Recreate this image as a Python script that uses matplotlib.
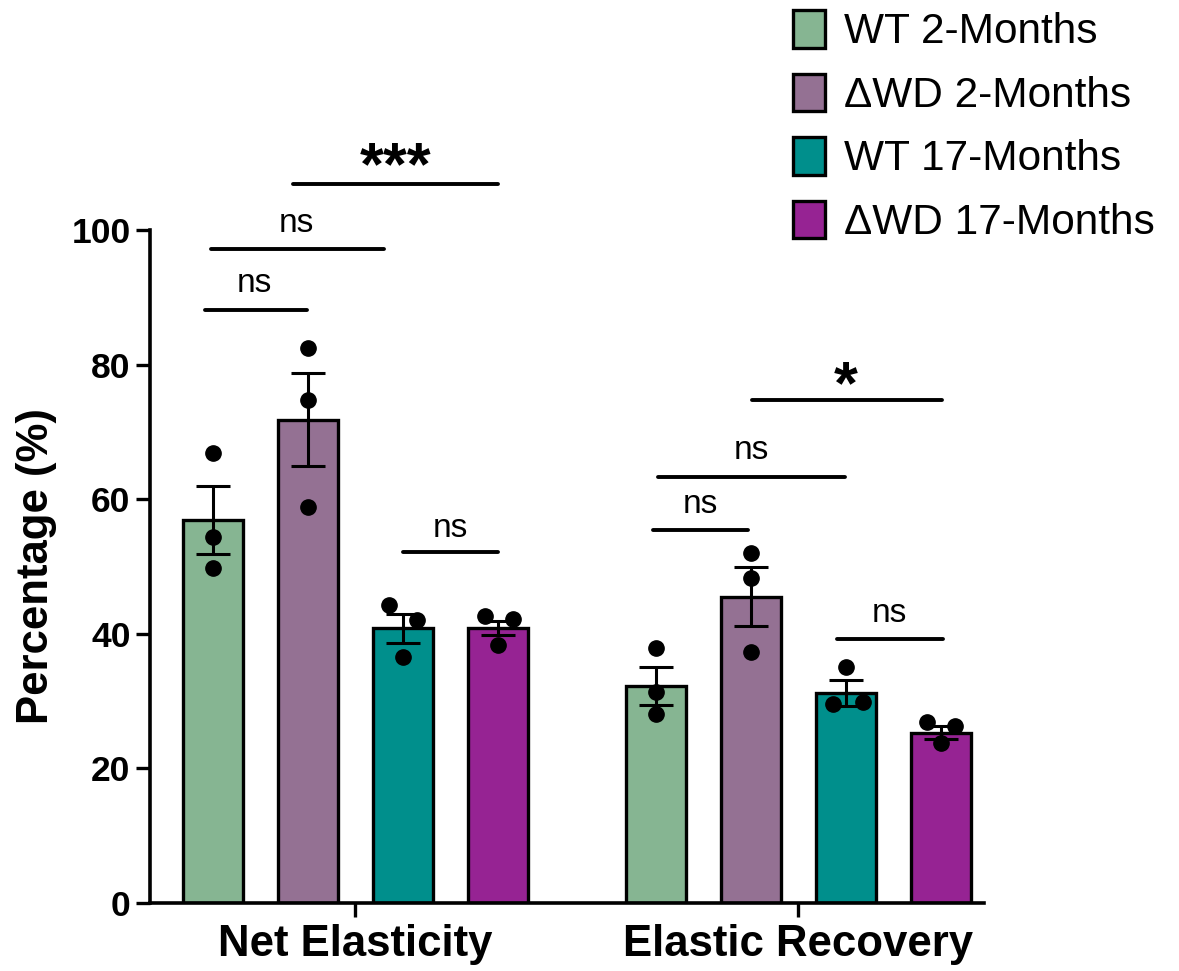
import matplotlib
matplotlib.use("Agg")
import matplotlib.pyplot as plt

plt.rcParams["font.family"] = ["Liberation Sans", "DejaVu Sans"]

groups = ["Net Elasticity", "Elastic Recovery"]
series = ["WT 2-Months", "\u0394WD 2-Months", "WT 17-Months", "\u0394WD 17-Months"]
colors = ["#86b592", "#947193", "#008f8c", "#962393"]

# bar means and SEM, one value per series
net_mean = [56.9, 71.8, 40.8, 40.9]
net_sem = [5.1, 6.9, 2.2, 1.0]
rec_mean = [32.2, 45.5, 31.2, 25.3]
rec_sem = [2.8, 4.4, 1.9, 1.0]

# individual animals (3 per series)
net_points = [[66.9, 54.4, 49.8], [82.5, 74.7, 58.8], [44.3, 42.0, 36.6], [42.6, 42.2, 38.3]]
rec_points = [[37.9, 31.4, 28.1], [52.0, 48.3, 37.3], [35.1, 29.6, 29.9], [26.9, 26.3, 23.8]]

# horizontal nudges so overlapping dots stay visible
net_jitter = [[0, 0, 0], [0, 0, 0], [-0.15, 0.15, 0], [-0.14, 0.16, 0]]
rec_jitter = [[0, 0, 0], [0, 0, 0], [0, -0.13, 0.18], [-0.14, 0.15, 0]]

# significance annotations: (x start, x end, line y, label, label x, label baseline)
brackets = [
    (-0.08, 0.99, 88.1, "ns", 0.44, 90.8),
    (-0.02, 1.80, 97.2, "ns", 0.88, 99.7),
    (0.85, 3.00, 106.8, "***", 1.92, 106.8),
    (2.00, 3.00, 52.2, "ns", 2.50, 54.4),
    (4.63, 5.63, 55.4, "ns", 5.13, 58.0),
    (4.68, 6.65, 63.3, "ns", 5.67, 66.0),
    (5.67, 7.67, 74.7, "*", 6.66, 74.3),
    (6.57, 7.68, 39.2, "ns", 7.12, 41.8),
]

group_x = [0.0, 4.66]
bar_w = 0.63

fig = plt.figure(figsize=(11.79, 9.71), dpi=100)
ax = fig.add_axes([0.1272, 0.070, 0.707, 0.6931])

all_means = [net_mean, rec_mean]
all_sems = [net_sem, rec_sem]
all_points = [net_points, rec_points]
all_jitter = [net_jitter, rec_jitter]

for g, gx in enumerate(group_x):
    for i in range(4):
        x = gx + i
        ax.bar(x, all_means[g][i], width=bar_w, color=colors[i], edgecolor="black",
               linewidth=2.4, zorder=2, label=series[i] if g == 0 else None)
        ax.errorbar(x, all_means[g][i], yerr=all_sems[g][i], fmt="none", ecolor="black",
                    elinewidth=2.2, capsize=12, capthick=2.2, zorder=3)
        xs = [x + j for j in all_jitter[g][i]]
        ax.plot(xs, all_points[g][i], "o", color="black", markersize=11, zorder=4,
                linestyle="none")

for x0, x1, y, label, tx, ty in brackets:
    ax.plot([x0, x1], [y, y], color="black", linewidth=2.8, clip_on=False,
            solid_capstyle="round", zorder=5)
    if "*" in label:
        ax.text(tx, ty, label, ha="center", va="baseline", fontsize=44,
                fontweight="bold")
    else:
        ax.text(tx, ty, label, ha="center", va="baseline", fontsize=24)

ax.set_xlim(-0.66, 8.11)
ax.set_ylim(0, 100)
ax.set_yticks([0, 20, 40, 60, 80, 100])
ax.set_xticks([gx + 1.5 for gx in group_x])
ax.set_xticklabels(groups, fontsize=31.5, fontweight="bold")
for lab in ax.get_yticklabels():
    lab.set_fontweight("bold")
    lab.set_fontsize(25.5)
ax.tick_params(axis="both", width=2.4, length=10, pad=4)
ax.tick_params(axis="x", pad=5)
ax.set_ylabel("Percentage (%)", fontsize=31.5, fontweight="bold", labelpad=10)

for side in ["top", "right"]:
    ax.spines[side].set_visible(False)
for side in ["left", "bottom"]:
    ax.spines[side].set_linewidth(2.6)

leg = fig.legend(loc="upper left", bbox_to_anchor=(793 / 1179, 1 - 10 / 971),
                 frameon=False, fontsize=30.5, handlelength=0.76, handleheight=0.99,
                 handletextpad=0.45, labelspacing=0.5, borderpad=0, borderaxespad=0)

fig.savefig("out.png", dpi=100)
